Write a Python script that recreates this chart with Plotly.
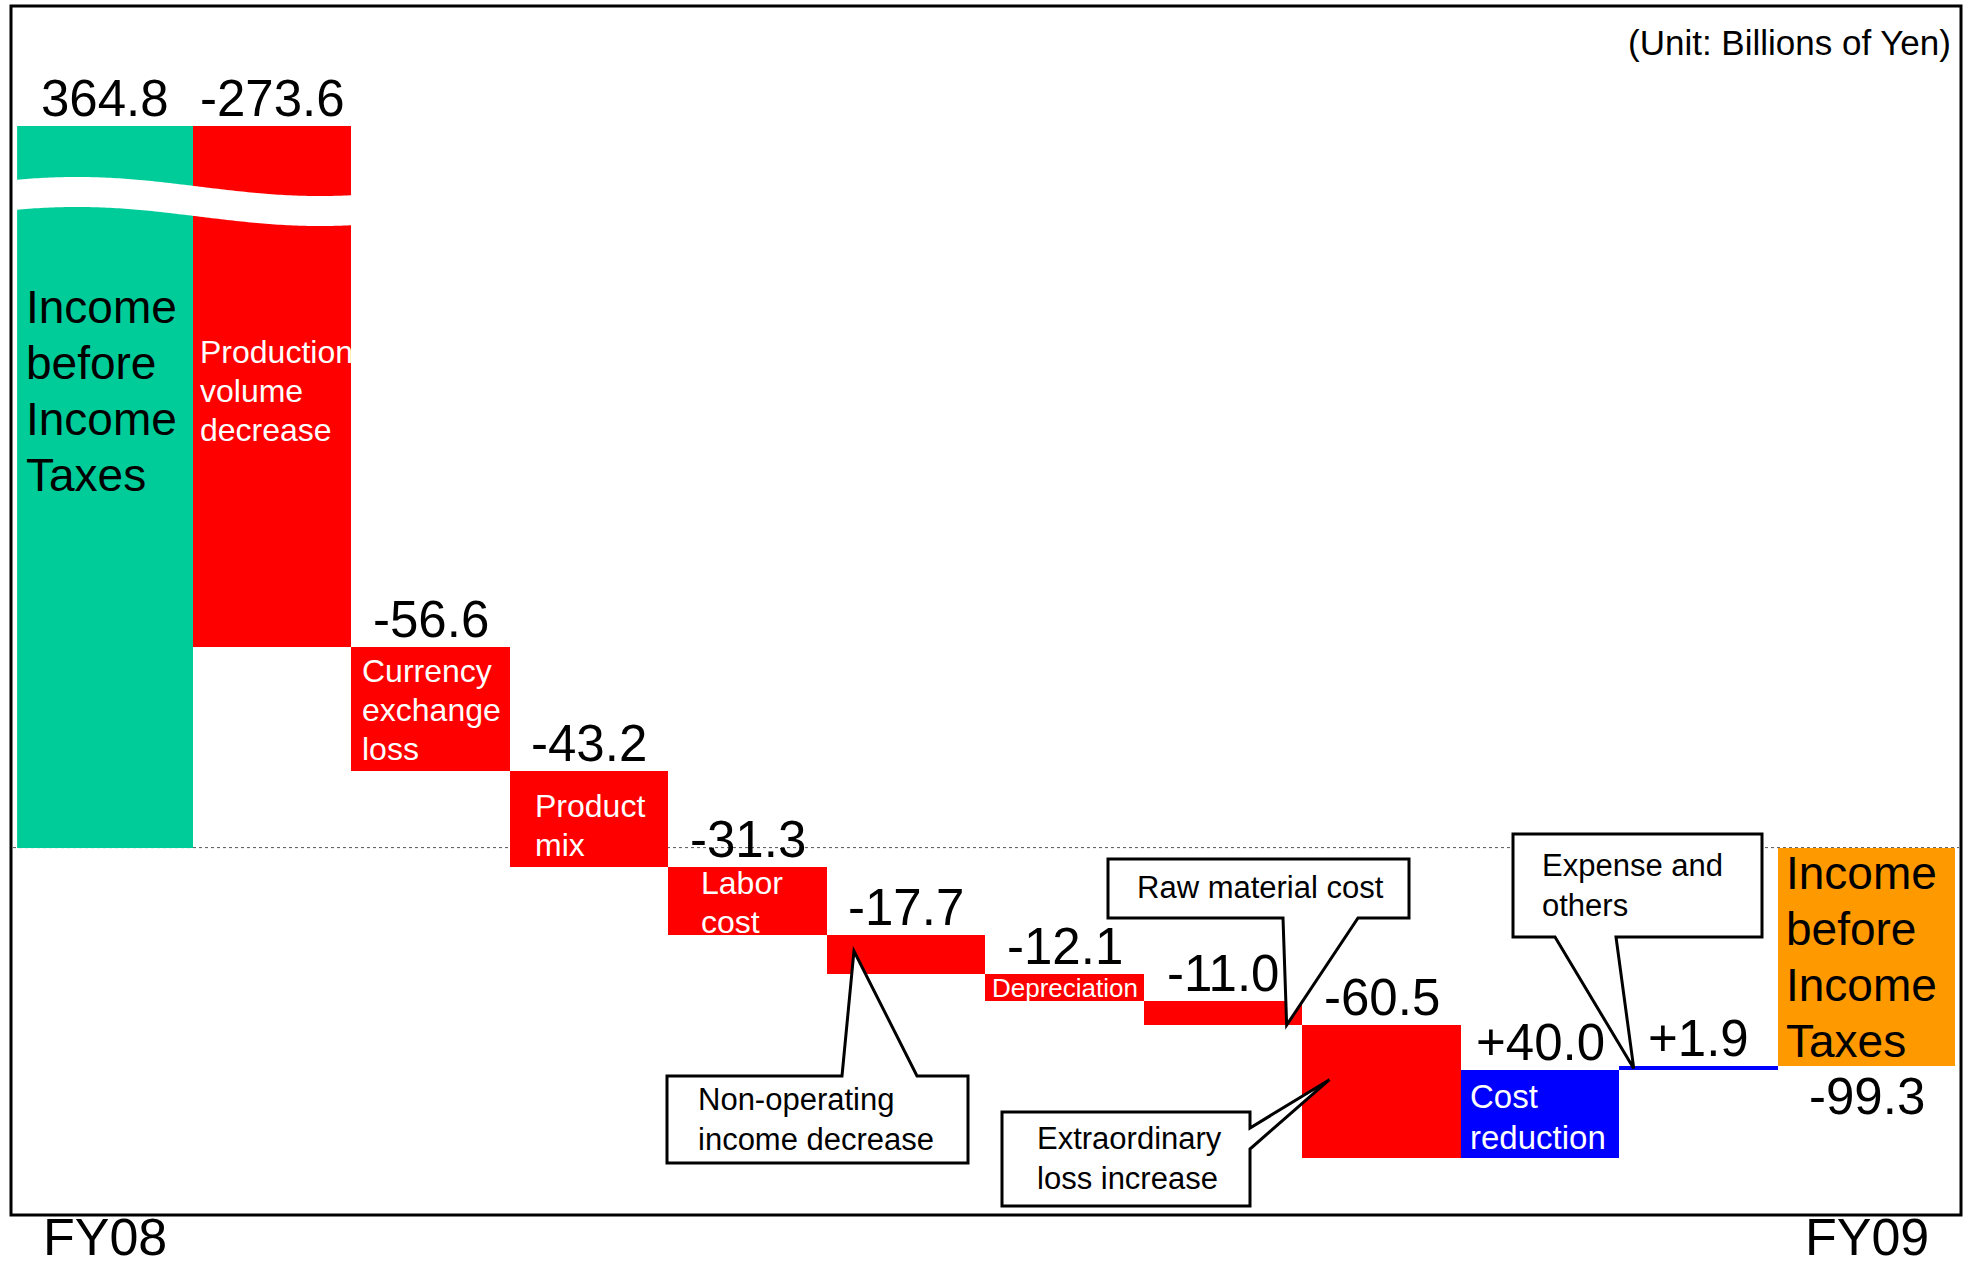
import numpy as np
import plotly.graph_objects as go

# ---- data: FY08 -> FY09 income before income taxes bridge (billions of yen) ----
items = [
    "FY08 income before income taxes",
    "Production volume decrease",
    "Currency exchange loss",
    "Product mix",
    "Labor cost",
    "Non-operating income decrease",
    "Depreciation",
    "Raw material cost",
    "Extraordinary loss increase",
    "Cost reduction",
    "Expense and others",
    "FY09 income before income taxes",
]
changes = [364.8, -273.6, -56.6, -43.2, -31.3, -17.7, -12.1, -11.0, -60.5, 40.0, 1.9, -99.3]
is_total = [True, False, False, False, False, False, False, False, False, False, False, True]
value_text = ["364.8", "-273.6", "-56.6", "-43.2", "-31.3", "-17.7", "-12.1", "-11.0",
              "-60.5", "+40.0", "+1.9", "-99.3"]

# labels written inside the bars
inside_labels = {
    0: ["Income", "before", "Income", "Taxes"],
    1: ["Production", "volume", "decrease"],
    2: ["Currency", "exchange", "loss"],
    3: ["Product", "mix"],
    4: ["Labor", "cost"],
    6: ["Depreciation"],
    9: ["Cost", "reduction"],
    11: ["Income", "before", "Income", "Taxes"],
}
# labels written in callout boxes
callout_labels = {
    5: ["Non-operating", "income decrease"],
    7: ["Raw material cost"],
    8: ["Extraordinary", "loss increase"],
    10: ["Expense and", "others"],
}
period_labels = ["FY08", "FY09"]
unit_note = "(Unit: Billions of Yen)"

# ---- style ----
GREEN, RED, BLUE, ORANGE = "#00CC99", "#FF0000", "#0000FF", "#FF9900"
FONT = "Liberation Sans, Arial, Helvetica, sans-serif"

# ---- waterfall geometry from the data ----
starts, ends = [], []
running = 0.0
for v, tot in zip(changes, is_total):
    if tot:
        starts.append(0.0)
        ends.append(v)
        running = v
    else:
        starts.append(running)
        running = round(running + v, 1)
        ends.append(running)
deltas = [round(e - s, 1) for s, e in zip(starts, ends)]

colors = []
for i, (d, tot) in enumerate(zip(deltas, is_total)):
    if tot:
        colors.append(GREEN if i == 0 else ORANGE)
    else:
        colors.append(RED if d < 0 else BLUE)

n = len(items)
xs = list(range(n))
widths = [1.0] * n
offsets = [-0.5] * n
widths[0], offsets[0] = 1.11, -0.61      # the two total columns are a little wider
widths[-1] = 1.12

# ---- canvas / axis layout (pixels on a 1966 x 1269 page) ----
W, H = 1966, 1269
X_RANGE = [-0.61, 11.62]
X_PX = (17.1, 1955.5)
ZERO_PX, PX_PER_UNIT = 847.6, 2.2
BREAK_PX, BOTTOM_PX, TOP_PX, PEAK_PX = 200, 1214, 8, 126


def fx(p):
    return p / W


def fy(p):
    return 1 - p / H


unit_px = (X_PX[1] - X_PX[0]) / (X_RANGE[1] - X_RANGE[0])


def dx(p):
    return X_RANGE[0] + (p - X_PX[0]) / unit_px


def dy(p):
    return (ZERO_PX - p) / PX_PER_UNIT


# broken value axis: lower panel holds everything up to the break,
# upper panel shows the tops of the two tall columns
low_range = [dy(BOTTOM_PX), dy(BREAK_PX)]
peak = max(max(starts), max(ends))
up_lo = peak - (BREAK_PX - PEAK_PX) / PX_PER_UNIT
up_range = [up_lo, up_lo + (BREAK_PX - TOP_PX) / PX_PER_UNIT]

fig = go.Figure()
for xa, ya in (("x", "y"), ("x2", "y2")):
    fig.add_trace(go.Bar(
        x=xs, y=deltas, base=starts, width=widths, offset=offsets,
        marker=dict(color=colors, line=dict(width=0)),
        xaxis=xa, yaxis=ya, showlegend=False, hoverinfo="skip",
    ))

ax_off = dict(visible=False, showgrid=False, zeroline=False, fixedrange=True)
fig.update_layout(
    width=W, height=H,
    margin=dict(l=0, r=0, t=0, b=0),
    paper_bgcolor="white", plot_bgcolor="rgba(0,0,0,0)",
    barmode="overlay", bargap=0,
    font=dict(family=FONT, color="black"),
    xaxis=dict(domain=[fx(X_PX[0]), fx(X_PX[1])], range=X_RANGE, anchor="y", **ax_off),
    xaxis2=dict(domain=[fx(X_PX[0]), fx(X_PX[1])], range=X_RANGE, anchor="y2", **ax_off),
    yaxis=dict(domain=[fy(BOTTOM_PX), fy(BREAK_PX)], range=low_range, anchor="x", **ax_off),
    yaxis2=dict(domain=[fy(BREAK_PX), fy(TOP_PX)], range=up_range, anchor="x2", **ax_off),
)

shapes = []
# zero reference line (dotted)
shapes.append(dict(type="line", xref="paper", yref="y", x0=fx(13), x1=fx(1959), y0=0, y1=0,
                   line=dict(color="#555555", width=1, dash="dot"), layer="below"))

# white wavy band marking the axis break across the two tall columns
wx = np.arange(14, 358, 3.0)
upper = 186.5 - 9.5 * np.cos(2 * np.pi * (wx - 77) / 486)
lower = upper + 30
pts = [(x, y) for x, y in zip(wx, upper)] + [(x, y) for x, y in zip(wx[::-1], lower[::-1])]
band = "M " + " L ".join(f"{fx(x):.5f},{fy(y):.5f}" for x, y in pts) + " Z"
shapes.append(dict(type="path", xref="paper", yref="paper", path=band,
                   fillcolor="white", line=dict(width=0), layer="above"))

# callout boxes with pointers onto their bars
callout_geom = {
    5: dict(box=(667, 1076, 968, 1163), side="top", base=(842, 917), tip=(-0.33, 0.40),
            text_x=696, text_y=1119),
    7: dict(box=(1108, 859, 1409, 918), side="bottom", base=(1283, 1358), tip=(0.40, 1.0),
            text_x=1135, text_y=887.5),
    8: dict(box=(1002, 1112, 1250, 1206), side="right", base=(1128, 1149), tip=(-0.33, 0.41),
            text_x=1035, text_y=1158.5),
    10: dict(box=(1513, 834, 1762, 937), side="bottom", base=(1555, 1616), tip=(-0.41, 0.44),
             text_x=1540, text_y=885),
}
for i, g in callout_geom.items():
    x0, y0, x1, y1 = g["box"]
    b0, b1 = g["base"]
    tip = (i + g["tip"][0], starts[i] + g["tip"][1] * deltas[i])
    TL, TR, BR, BL = (dx(x0), dy(y0)), (dx(x1), dy(y0)), (dx(x1), dy(y1)), (dx(x0), dy(y1))
    if g["side"] == "top":
        poly = [TL, (dx(b0), dy(y0)), tip, (dx(b1), dy(y0)), TR, BR, BL]
    elif g["side"] == "bottom":
        poly = [TL, TR, BR, (dx(b1), dy(y1)), tip, (dx(b0), dy(y1)), BL]
    else:
        poly = [TL, TR, (dx(x1), dy(b0)), tip, (dx(x1), dy(b1)), BR, BL]
    path = "M " + " L ".join(f"{a:.5f},{b:.5f}" for a, b in poly) + " Z"
    shapes.append(dict(type="path", xref="x", yref="y", path=path, fillcolor="white",
                       line=dict(color="black", width=3), layer="above"))

# outer frame
shapes.append(dict(type="rect", xref="paper", yref="paper", x0=fx(11), x1=fx(1961),
                   y0=fy(1215), y1=fy(6), line=dict(color="black", width=3),
                   fillcolor="rgba(0,0,0,0)", layer="above"))
fig.update_layout(shapes=shapes)

ann = []


def text(t, size, color="black", **kw):
    d = dict(text=t, showarrow=False, font=dict(size=size, color=color, family=FONT))
    d.update(kw)
    ann.append(d)


# value labels above each column (below the final negative total)
for i in range(n):
    top = max(starts[i], ends[i])
    cx = i + offsets[i] + widths[i] / 2
    if is_total[i] and ends[i] < 0:
        text(value_text[i], 51, x=cx, y=ends[i], xref="x", yref="y",
             xanchor="center", yanchor="top", yshift=0)
    else:
        yref = "y2" if top > low_range[1] else "y"
        text(value_text[i], 51, x=cx, y=top, xref=yref.replace("y", "x"), yref=yref,
             xanchor="center", yanchor="bottom", yshift=-3)

# labels inside the columns: (x offset px, first line below top px, line step px, size, colour)
inside_style = {
    0: (7, 181, 56, 46, "black"),
    1: (5, 226, 39, 32, "white"),
    2: (8, 24, 39, 32, "white"),
    3: (23, 35, 39, 32, "white"),
    4: (30, 16, 39, 32, "white"),
    9: (7, 26, 41, 33, "white"),
    11: (6, 25, 56, 46, "black"),
}
for i, lines in inside_labels.items():
    top = max(starts[i], ends[i])
    yref = "y2" if top > low_range[1] else "y"
    xref = yref.replace("y", "x")
    if i in inside_style:
        xo, first, step, size, col = inside_style[i]
        for k, line in enumerate(lines):
            text(line, size, col, x=i + offsets[i], y=top, xref=xref, yref=yref,
                 xanchor="left", yanchor="middle", xshift=xo, yshift=-(first + k * step))
    else:
        text(lines[0], 26, "white", x=i + offsets[i] + widths[i] / 2,
             y=starts[i] + deltas[i] / 2, xref="x", yref="y",
             xanchor="center", yanchor="middle")

# callout texts
for i, lines in callout_labels.items():
    g = callout_geom[i]
    text("<br>".join(lines), 31, x=fx(g["text_x"]), y=fy(g["text_y"]), xref="paper",
         yref="paper", xanchor="left", yanchor="middle", align="left")

# period labels under the two total columns
for lab, i in zip(period_labels, (0, n - 1)):
    text(lab, 52, x=i + offsets[i] + widths[i] / 2, y=fy(1268), xref="x", yref="paper",
         xanchor="center", yanchor="bottom")

text(unit_note, 35, x=fx(1953), y=fy(42), xref="paper", yref="paper",
     xanchor="right", yanchor="middle")

fig.update_layout(annotations=ann)

fig.write_html("out.html", config={"displayModeBar": False},
               post_script="document.body.style.margin='0';")
